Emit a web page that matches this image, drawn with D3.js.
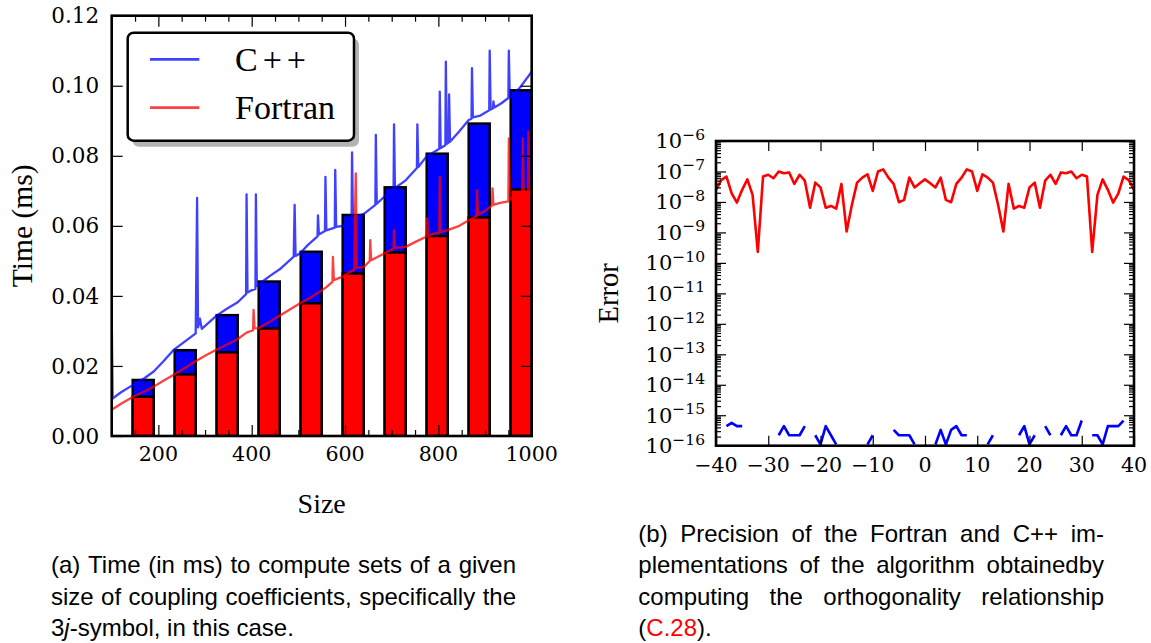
<!DOCTYPE html>
<html><head><meta charset="utf-8">
<script src="https://cdn.jsdelivr.net/npm/d3@7"></script>
<style>body{margin:0;background:#fff} svg{display:block}</style>
</head><body><svg id="c" width="1151" height="643"></svg>
<script>
// ---------------- DATA ----------------
// (a) timing chart
const barSizes = [167.5, 257.5, 347.5, 437.5, 527.5, 617.5, 707.5, 797.5, 887.5, 977.5];
const cppBar = [0.0160, 0.0245, 0.0345, 0.0441, 0.0526, 0.0631, 0.0710, 0.0806, 0.0892, 0.0987];
const fortranBar = [0.0112, 0.0176, 0.0239, 0.0307, 0.0379, 0.0464, 0.0524, 0.0571, 0.0624, 0.0704];
const cppTime = [
[100,0.0350],[102,0.0107],[120,0.0125],[146,0.0146],[170,0.0165],[190,0.0184],[210,0.0212],[232,0.0245],[255,0.0268],[280,0.0293],[283,0.0680],[285,0.0310],[289,0.0335],[293,0.0306],[324,0.0343],[345,0.0362],[370,0.0382],[388,0.0405],[389,0.0690],[391,0.0410],[398,0.0415],[408,0.0420],[409,0.0690],[411,0.0428],[418,0.0436],[440,0.0458],[460,0.0476],[490,0.0512],[492,0.0660],[494,0.0514],[504,0.0522],[520,0.0545],[541,0.0570],[542,0.0630],[544,0.0575],[557,0.0585],[558,0.0740],[560,0.0587],[578,0.0595],[579,0.0760],[581,0.0597],[595,0.0600],[614,0.0615],[615,0.0810],[617,0.0620],[641,0.0635],[665,0.0660],[666,0.0860],[668,0.0663],[684,0.0683],[704,0.0705],[705,0.0890],[707,0.0708],[730,0.0730],[754,0.0765],[755,0.0890],[757,0.0768],[774,0.0797],[790,0.0810],[802,0.0820],[803,0.0983],[805,0.0822],[815,0.0830],[816,0.1069],[818,0.0834],[822,0.0838],[823,0.0975],[825,0.0840],[845,0.0870],[865,0.0902],[871,0.0906],[872,0.1050],[874,0.0910],[890,0.0915],[909,0.0930],[910,0.1100],[912,0.0932],[917,0.0936],[918,0.0955],[920,0.0938],[935,0.0950],[950,0.0965],[951,0.1100],[953,0.0967],[975,0.0995],[1000,0.1040]
];
const fortranTime = [
[100,0.0075],[120,0.0092],[146,0.0112],[170,0.0127],[190,0.0141],[210,0.0157],[232,0.0174],[255,0.0193],[278,0.0212],[300,0.0229],[324,0.0246],[345,0.0260],[367,0.0274],[389,0.0295],[403,0.0302],[404,0.0360],[406,0.0308],[414,0.0307],[435,0.0323],[457,0.0341],[480,0.0360],[503,0.0378],[525,0.0395],[546,0.0412],[560,0.0425],[573,0.0440],[574,0.0511],[576,0.0445],[595,0.0455],[610,0.0468],[620,0.0475],[621,0.0600],[623,0.0750],[625,0.0480],[641,0.0483],[653,0.0500],[654,0.0559],[656,0.0502],[684,0.0521],[704,0.0535],[705,0.0588],[707,0.0537],[730,0.0540],[752,0.0555],[774,0.0569],[776,0.0621],[778,0.0570],[790,0.0578],[802,0.0580],[803,0.0740],[805,0.0582],[820,0.0588],[845,0.0600],[865,0.0616],[882,0.0628],[883,0.0702],[885,0.0632],[900,0.0642],[911,0.0654],[915,0.0658],[916,0.0707],[918,0.0660],[930,0.0665],[950,0.0670],[951,0.0850],[953,0.0675],[965,0.0680],[980,0.0688],[981,0.0850],[983,0.0690],[992,0.0695],[993,0.0869],[995,0.0698],[1000,0.0690]
];
const timeYTicks = [0, 0.02, 0.04, 0.06, 0.08, 0.10, 0.12];
const sizeTicks = [200, 400, 600, 800, 1000];
const sizeMinorTicks = [150, 250, 300, 350, 450, 500, 550, 650, 700, 750, 850, 900, 950];
const seriesNames = ["C++", "Fortran"];

// (b) precision chart
const errM = [-40,-39,-38,-37,-36,-35,-34,-33,-32,-31,-30,-29,-28,-27,-26,-25,-24,-23,-22,-21,-20,-19,-18,-17,-16,-15,-14,-13,-12,-11,-10,-9,-8,-7,-6,-5,-4,-3,-2,-1,0,1,2,3,4,5,6,7,8,9,10,11,12,13,14,15,16,17,18,19,20,21,22,23,24,25,26,27,28,29,30,31,32,33,34,35,36,37,38,39,40];
const fortranErr = [2.5e-8,5.2e-8,6.8e-8,1.9e-8,9.5e-9,2.5e-8,5.5e-8,1.7e-8,2.3e-10,6.8e-8,7.8e-8,6.0e-8,1.0e-7,8.7e-8,9.3e-8,3.9e-8,7.8e-8,5.0e-8,6.5e-9,4.3e-8,3.0e-8,6.5e-9,7.4e-9,6.0e-9,3.9e-8,1.07e-9,7.9e-9,4.3e-8,6.3e-8,8.1e-8,2.3e-8,1.0e-7,1.17e-7,6.3e-8,3.9e-8,9.8e-9,1.17e-8,6.3e-8,3.0e-8,4.1e-8,5.5e-8,
4.1e-8,3.0e-8,6.3e-8,1.17e-8,9.8e-9,3.9e-8,6.3e-8,1.17e-7,1.0e-7,2.3e-8,8.1e-8,6.3e-8,4.3e-8,7.9e-9,1.07e-9,3.9e-8,6.0e-9,7.4e-9,6.5e-9,3.0e-8,4.3e-8,6.5e-9,5.0e-8,7.8e-8,3.9e-8,9.3e-8,8.7e-8,1.0e-7,6.0e-8,7.8e-8,6.8e-8,2.3e-10,1.7e-8,5.5e-8,2.5e-8,9.5e-9,1.9e-8,6.8e-8,5.2e-8,2.5e-8];
// 0 = exact (no point drawn on log axis)
const cppErr = [0,0,4.4e-16,5.6e-16,4.4e-16,4.4e-16,0,0,0,0,0,0,2.2e-16,4.4e-16,2.2e-16,2.2e-16,2.2e-16,4.4e-16,0,2.2e-16,1.1e-16,4.4e-16,2.2e-16,1.1e-16,0,0,0,0,0,1.1e-16,2.2e-16,0,0,0,3.3e-16,2.2e-16,2.2e-16,2.2e-16,1.1e-16,0,0,
0,1.1e-16,3.3e-16,1.1e-16,3.3e-16,4.4e-16,2.2e-16,2.2e-16,0,0,0,1.1e-16,2.2e-16,0,0,0,0,2.2e-16,4.4e-16,1.1e-16,2.2e-16,0,4.4e-16,2.2e-16,0,2.2e-16,4.4e-16,2.2e-16,2.2e-16,6.7e-16,0,2.2e-16,2.2e-16,1.1e-16,4.4e-16,4.4e-16,4.4e-16,6.7e-16,0,0];
const mTicks = [-40,-30,-20,-10,0,10,20,30,40];
const errDecades = [1e-16,1e-15,1e-14,1e-13,1e-12,1e-11,1e-10,1e-9,1e-8,1e-7,1e-6];
const errExps = ["−16","−15","−14","−13","−12","−11","−10","−9","−8","−7","−6"];

// captions
const captionA = [
  {words:[[{t:"(a)"}],[{t:"Time"}],[{t:"(in"}],[{t:"ms)"}],[{t:"to"}],[{t:"compute"}],[{t:"sets"}],[{t:"of"}],[{t:"a"}],[{t:"given"}]], justify:true},
  {words:[[{t:"size"}],[{t:"of"}],[{t:"coupling"}],[{t:"coefficients,"}],[{t:"specifically"}],[{t:"the"}]], justify:true},
  {words:[[{t:"3"},{t:"j",it:true},{t:"-symbol,"}],[{t:"in"}],[{t:"this"}],[{t:"case."}]], justify:false}
];
const captionB = [
  {words:[[{t:"(b)"}],[{t:"Precision"}],[{t:"of"}],[{t:"the"}],[{t:"Fortran"}],[{t:"and"}],[{t:"C++"}],[{t:"im-"}]], justify:true},
  {words:[[{t:"plementations"}],[{t:"of"}],[{t:"the"}],[{t:"algorithm"}],[{t:"obtainedby"}]], justify:true},
  {words:[[{t:"computing"}],[{t:"the"}],[{t:"orthogonality"}],[{t:"relationship"}]], justify:true},
  {words:[[{t:"("},{t:"C.28",c:"#ff0000"},{t:")."}]], justify:false}
];

// ---------------- DRAW ----------------
const svg = d3.select("#c");
svg.append("rect").attr("width",1151).attr("height",643).attr("fill","#fff");
const tickFont = "DejaVu Serif", wordFont = "Liberation Serif";

function ticks(g, axisFn, scale, vals, len, tr){
  g.append("g").attr("transform", tr)
   .call(axisFn(scale).tickValues(vals).tickSize(-len).tickFormat(""))
   .call(s => s.select(".domain").remove())
   .call(s => s.selectAll("line").attr("stroke","#000").attr("stroke-width",1.2));
}

// ===== (a) =====
const A = {l:111.7, r:531.7, t:15.7, b:436};
const xA = d3.scaleLinear().domain([100,1000]).range([A.l, A.r]);
const yA = d3.scaleLinear().domain([0,0.12]).range([A.b, A.t]);
const gA = svg.append("g");
svg.append("clipPath").attr("id","clipA").append("rect")
  .attr("x",A.l).attr("y",A.t).attr("width",A.r-A.l).attr("height",A.b-A.t);

const halfW = 22.5;
const barData = barSizes.map((s,i)=>({s, c:cppBar[i], f:fortranBar[i]}));
const bars = gA.append("g").attr("clip-path","url(#clipA)");
bars.selectAll("rect.cpp").data(barData).join("rect").attr("class","cpp")
  .attr("x", d=>xA(d.s-halfW)).attr("width", d=>xA(d.s+halfW)-xA(d.s-halfW))
  .attr("y", d=>yA(d.c)).attr("height", d=>yA(0)-yA(d.c))
  .attr("fill","#0000ff").attr("stroke","#000").attr("stroke-width",2.5);
bars.selectAll("rect.for").data(barData).join("rect").attr("class","for")
  .attr("x", d=>xA(d.s-halfW)).attr("width", d=>xA(d.s+halfW)-xA(d.s-halfW))
  .attr("y", d=>yA(d.f)).attr("height", d=>yA(0)-yA(d.f))
  .attr("fill","#ff0000").attr("stroke","#000").attr("stroke-width",2.5);

const lineA = d3.line().x(d=>xA(d[0])).y(d=>yA(d[1]));
const linesA = gA.append("g").attr("clip-path","url(#clipA)");
linesA.append("path").datum(cppTime).attr("d",lineA).attr("fill","none")
  .attr("stroke","#0000ff").attr("stroke-opacity",0.75).attr("stroke-width",2.3).attr("stroke-linejoin","round");
linesA.append("path").datum(fortranTime).attr("d",lineA).attr("fill","none")
  .attr("stroke","#ff0000").attr("stroke-opacity",0.75).attr("stroke-width",2.3).attr("stroke-linejoin","round");

ticks(gA, d3.axisBottom, xA, sizeTicks, 11, `translate(0,${A.b})`);
ticks(gA, d3.axisBottom, xA, sizeMinorTicks, 6, `translate(0,${A.b})`);
ticks(gA, d3.axisTop, xA, sizeTicks, 11, `translate(0,${A.t})`);
ticks(gA, d3.axisTop, xA, sizeMinorTicks, 6, `translate(0,${A.t})`);
ticks(gA, d3.axisLeft, yA, timeYTicks, 11, `translate(${A.l},0)`);
ticks(gA, d3.axisRight, yA, timeYTicks, 11, `translate(${A.r},0)`);
gA.append("rect").attr("x",A.l).attr("y",A.t).attr("width",A.r-A.l).attr("height",A.b-A.t)
  .attr("fill","none").attr("stroke","#000").attr("stroke-width",2.6);

gA.selectAll("text.yl").data(timeYTicks).join("text").attr("class","yl")
  .attr("x", A.l-12.5).attr("y", d=>yA(d)+7.6).attr("text-anchor","end")
  .attr("font-family",tickFont).attr("font-size",21.5).text(d=>d3.format(".2f")(d));
gA.selectAll("text.xl").data(sizeTicks).join("text").attr("class","xl")
  .attr("x", d=>xA(d)).attr("y", 460.7).attr("text-anchor","middle")
  .attr("font-family",tickFont).attr("font-size",20.6).text(d=>d);
gA.append("text").attr("x",(A.l+A.r)/2).attr("y",513).attr("text-anchor","middle")
  .attr("font-family",wordFont).attr("font-size",28).text("Size");
gA.append("text").attr("transform",`translate(32.3,${(A.t+A.b)/2}) rotate(-90)`).attr("text-anchor","middle")
  .attr("font-family",wordFont).attr("font-size",29.5).text("Time (ms)");

// legend
const lg = gA.append("g");
lg.append("rect").attr("x",132.7).attr("y",38.7).attr("width",226.3).attr("height",108).attr("rx",6)
  .attr("fill","#b3b3b3");
lg.append("rect").attr("x",127.7).attr("y",32.7).attr("width",226.3).attr("height",108).attr("rx",6)
  .attr("fill","#fff").attr("stroke","#000").attr("stroke-width",2.5);
const legColors = ["#0000ff","#ff0000"];
seriesNames.forEach((n,i)=>{
  const yy = [59.3,107.7][i];
  lg.append("line").attr("x1",150).attr("x2",199.3).attr("y1",yy).attr("y2",yy)
    .attr("stroke",legColors[i]).attr("stroke-opacity",0.75).attr("stroke-width",2.8);
  lg.append("text").attr("x",235).attr("y",[71,119.3][i]).attr("font-family",wordFont)
    .attr("font-size",34).attr("letter-spacing", i===0?5:0).text(n);
});

// ===== (b) =====
const B = {l:716, r:1134, t:141, b:445.7};
const xB = d3.scaleLinear().domain([-40,40]).range([B.l, B.r]);
const yB = d3.scaleLog().domain([1e-16,1e-6]).range([B.b, B.t]);
const gB = svg.append("g");
svg.append("clipPath").attr("id","clipB").append("rect")
  .attr("x",B.l).attr("y",B.t).attr("width",B.r-B.l).attr("height",B.b-B.t);
const lineB = d3.line().defined(d=>d[1]>0).x(d=>xB(d[0])).y(d=>yB(d[1]));
const linesB = gB.append("g").attr("clip-path","url(#clipB)");
linesB.append("path").datum(errM.map((m,i)=>[m,fortranErr[i]])).attr("d",lineB)
  .attr("fill","none").attr("stroke","#ff0000").attr("stroke-width",2.6).attr("stroke-linejoin","round");
linesB.append("path").datum(errM.map((m,i)=>[m,cppErr[i]])).attr("d",lineB)
  .attr("fill","none").attr("stroke","#0000ff").attr("stroke-width",2.6).attr("stroke-linejoin","round");

const minorB = [];
errDecades.slice(0,-1).forEach(d=>{ for(const k of [2,3,4,5,6,7,8,9]) minorB.push(d*k); });
ticks(gB, d3.axisBottom, xB, mTicks, 10, `translate(0,${B.b})`);
ticks(gB, d3.axisTop, xB, mTicks, 10, `translate(0,${B.t})`);
ticks(gB, d3.axisLeft, yB, errDecades, 10, `translate(${B.l},0)`);
ticks(gB, d3.axisLeft, yB, minorB, 5, `translate(${B.l},0)`);
ticks(gB, d3.axisRight, yB, errDecades, 10, `translate(${B.r},0)`);
ticks(gB, d3.axisRight, yB, minorB, 5, `translate(${B.r},0)`);
gB.append("rect").attr("x",B.l).attr("y",B.t).attr("width",B.r-B.l).attr("height",B.b-B.t)
  .attr("fill","none").attr("stroke","#000").attr("stroke-width",2.6);

errDecades.forEach((d,i)=>{
  const t = gB.append("text").attr("x",705).attr("y",yB(d)+7.3).attr("text-anchor","end")
    .attr("font-family",tickFont).attr("font-size",21);
  t.append("tspan").text("10");
  t.append("tspan").attr("dy",-8.5).attr("font-size",15.5).text(errExps[i]);
});
gB.selectAll("text.xl").data(mTicks).join("text").attr("class","xl")
  .attr("x", d=>xB(d)).attr("y", 471.7).attr("text-anchor","middle")
  .attr("font-family",tickFont).attr("font-size",20.6).text(d=>d<0?"−"+Math.abs(d):d);
gB.append("text").attr("transform",`translate(618.3,${(B.t+B.b)/2}) rotate(-90)`).attr("text-anchor","middle")
  .attr("font-family",wordFont).attr("font-size",28.5).text("Error");

// ===== captions =====
const capFont = "Liberation Sans", capSize = 24;
function caption(lines, x0, x1, baselines){
  lines.forEach((ln,i)=>{
    const g = svg.append("g");
    const items = ln.words.map(w=>{
      const t = g.append("text").attr("y",baselines[i]).attr("font-family",capFont).attr("font-size",capSize).attr("fill","#000");
      w.forEach(seg=>{ const ts=t.append("tspan").text(seg.t); if(seg.it) ts.attr("font-style","italic"); if(seg.c) ts.attr("fill",seg.c); });
      return {t, w:t.node().getComputedTextLength()};
    });
    const total = d3.sum(items, d=>d.w);
    const sp = (ln.justify && items.length>1) ? Math.max(3,(x1-x0-total)/(items.length-1)) : capSize*0.278;
    let x = x0;
    items.forEach(it=>{ it.t.attr("x",x); x += it.w + sp; });
  });
}
caption(captionA, 51, 516, [573.3, 605, 636]);
caption(captionB, 638.3, 1104, [541.7, 573.3, 605, 636]);
</script></body></html>
